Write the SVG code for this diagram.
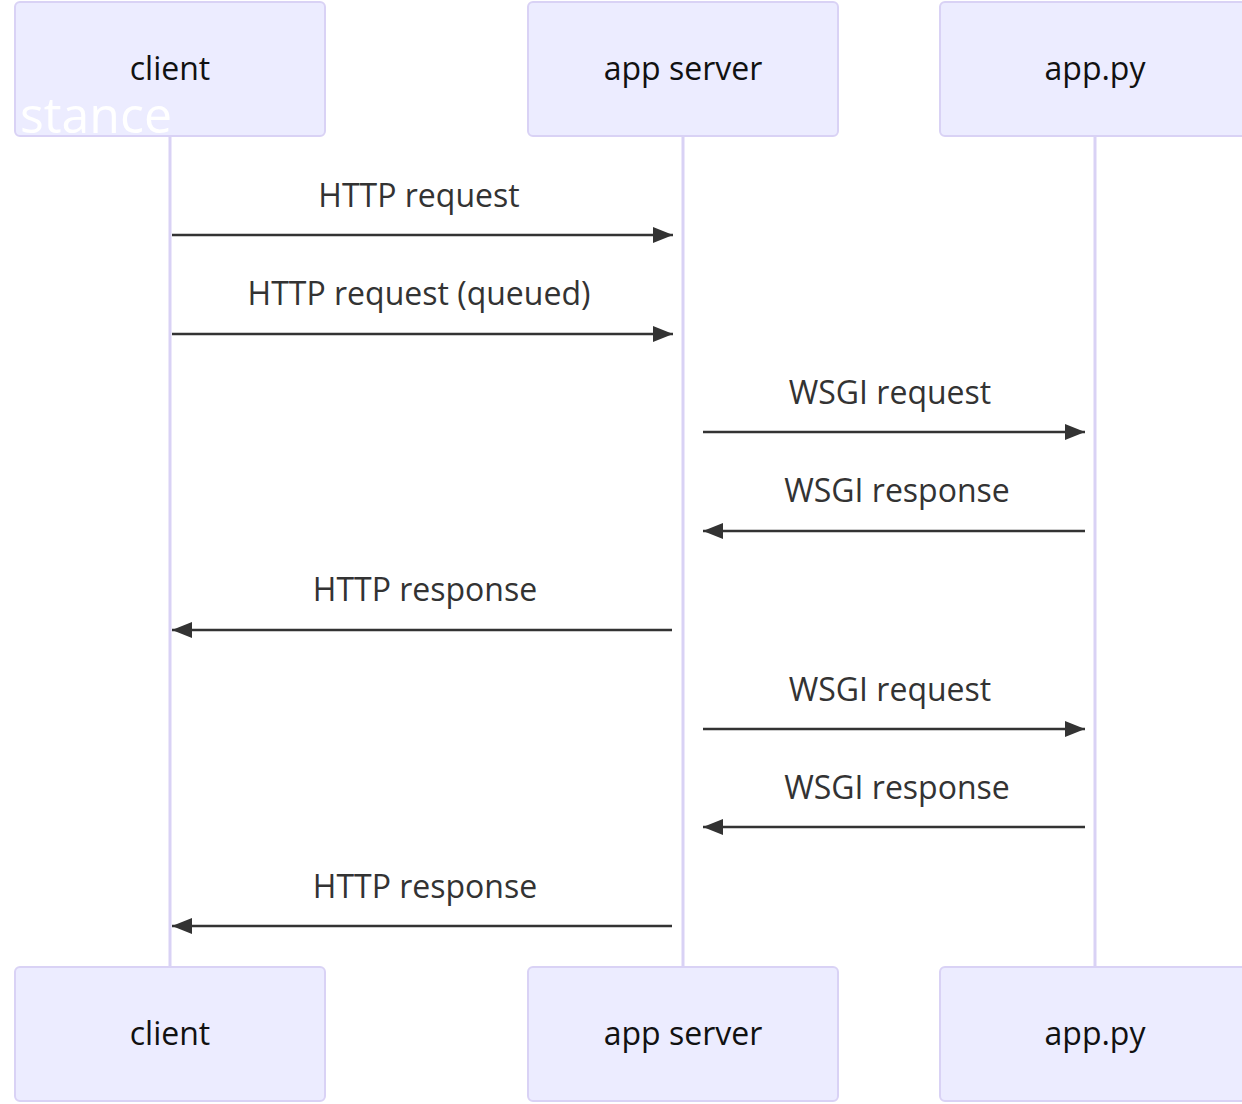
<svg xmlns="http://www.w3.org/2000/svg" width="1242" height="1104" viewBox="0 0 1242 1104">
<style>
.actor{fill:#ECECFF;stroke:#d9d2f5;stroke-width:2}
.life{stroke:#d9d2f5;stroke-width:3}
.lbl{font-family:"Open Sans","DejaVu Sans",sans-serif;font-size:32px;fill:#111;text-anchor:middle}
.msg{font-family:"Open Sans","DejaVu Sans",sans-serif;font-size:32px;fill:#333;text-anchor:middle}
.ln{stroke:#333;stroke-width:2.5;fill:none}
</style>
<defs>
<marker id="ah" viewBox="0 0 20 16" refX="20" refY="8" markerWidth="20" markerHeight="16" markerUnits="userSpaceOnUse" orient="auto">
<path d="M0,0 L20,8 L0,16 z" fill="#333"/>
</marker>
</defs>
<rect width="1242" height="1104" fill="#fff"/>
<g id="lifelines">
<line class="life" x1="170" y1="136" x2="170" y2="967"/>
<line class="life" x1="683" y1="136" x2="683" y2="967"/>
<line class="life" x1="1095" y1="136" x2="1095" y2="967"/>
</g>
<g id="client-top"><rect class="actor" x="15" y="2" width="310" height="134" rx="5"/><text class="lbl" x="170" y="80">client</text></g>
<g id="appserver-top"><rect class="actor" x="528" y="2" width="310" height="134" rx="5"/><text class="lbl" x="683" y="80">app server</text></g>
<g id="apppy-top"><rect class="actor" x="940" y="2" width="310" height="134" rx="5"/><text class="lbl" x="1095" y="80">app.py</text></g>
<g id="client-bottom"><rect class="actor" x="15" y="967" width="310" height="134" rx="5"/><text class="lbl" x="170" y="1045">client</text></g>
<g id="appserver-bottom"><rect class="actor" x="528" y="967" width="310" height="134" rx="5"/><text class="lbl" x="683" y="1045">app server</text></g>
<g id="apppy-bottom"><rect class="actor" x="940" y="967" width="310" height="134" rx="5"/><text class="lbl" x="1095" y="1045">app.py</text></g>
<text x="172" y="133" font-family="'Open Sans',sans-serif" font-size="50" fill="#fff" text-anchor="end">stance</text>
<g id="connectors">
<text class="msg" x="419" y="207">HTTP request</text>
<line class="ln" x1="172" y1="235" x2="673" y2="235" marker-end="url(#ah)"/>
<text class="msg" x="419" y="305">HTTP request (queued)</text>
<line class="ln" x1="172" y1="334" x2="673" y2="334" marker-end="url(#ah)"/>
<text class="msg" x="890" y="404">WSGI request</text>
<line class="ln" x1="703" y1="432" x2="1085" y2="432" marker-end="url(#ah)"/>
<text class="msg" x="897" y="502">WSGI response</text>
<line class="ln" x1="1085" y1="531" x2="703" y2="531" marker-end="url(#ah)"/>
<text class="msg" x="425" y="601">HTTP response</text>
<line class="ln" x1="672" y1="630" x2="172" y2="630" marker-end="url(#ah)"/>
<text class="msg" x="890" y="701">WSGI request</text>
<line class="ln" x1="703" y1="729" x2="1085" y2="729" marker-end="url(#ah)"/>
<text class="msg" x="897" y="799">WSGI response</text>
<line class="ln" x1="1085" y1="827" x2="703" y2="827" marker-end="url(#ah)"/>
<text class="msg" x="425" y="898">HTTP response</text>
<line class="ln" x1="672" y1="926" x2="172" y2="926" marker-end="url(#ah)"/>
</g>
</svg>
